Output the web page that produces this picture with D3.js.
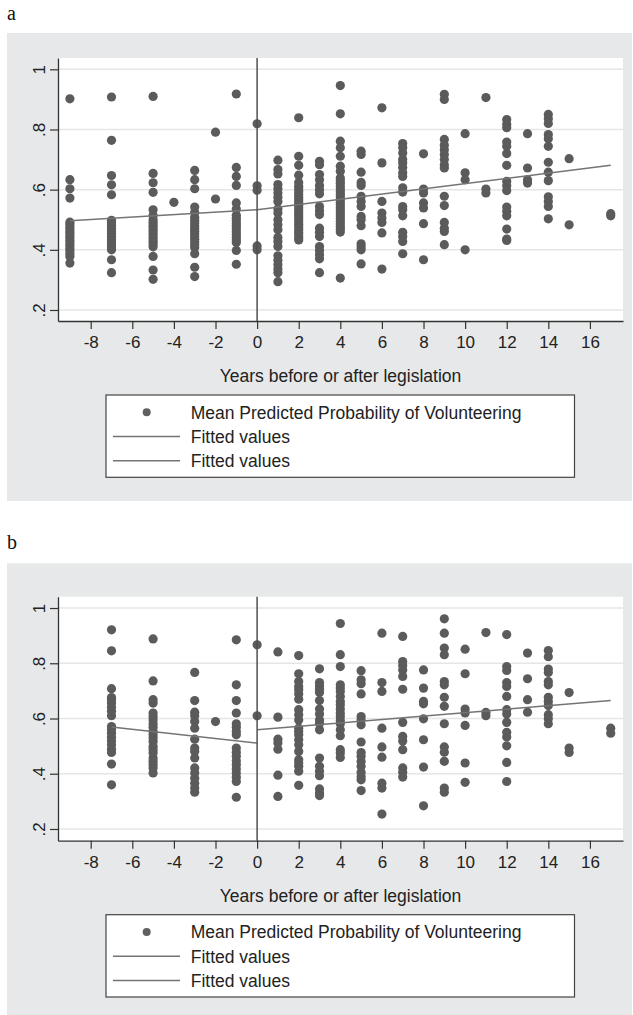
<!DOCTYPE html>
<html>
<head>
<meta charset="utf-8">
<script src="https://cdn.jsdelivr.net/npm/d3@7"></script>
<style>
  body { margin: 0; background: #fff; }
  svg { display: block; }
</style>
</head>
<body>
<div id="chart"></div>
<script>
// years on the x axis that carry points, one list of mean probabilities per year
const aYears = [-9, -7, -5, -4, -3, -2, -1, 0, 1, 2, 3, 4, 5, 6, 7, 8, 9, 10, 11, 12, 13, 14, 15, 17];
const aProb = [
  [0.902, 0.633, 0.603, 0.572, 0.492, 0.484, 0.475, 0.466, 0.458, 0.449, 0.441, 0.432, 0.423, 0.414, 0.405, 0.396, 0.387, 0.378, 0.356],
  [0.908, 0.764, 0.647, 0.616, 0.583, 0.498, 0.490, 0.481, 0.472, 0.463, 0.454, 0.445, 0.436, 0.427, 0.418, 0.409, 0.400, 0.367, 0.324],
  [0.910, 0.654, 0.623, 0.591, 0.533, 0.514, 0.500, 0.491, 0.482, 0.473, 0.464, 0.455, 0.446, 0.437, 0.428, 0.419, 0.410, 0.378, 0.333, 0.302],
  [0.558],
  [0.664, 0.633, 0.603, 0.542, 0.524, 0.508, 0.498, 0.489, 0.480, 0.471, 0.462, 0.453, 0.444, 0.435, 0.426, 0.417, 0.408, 0.387, 0.342, 0.311],
  [0.791, 0.569],
  [0.918, 0.674, 0.644, 0.614, 0.556, 0.536, 0.515, 0.505, 0.496, 0.487, 0.478, 0.469, 0.460, 0.451, 0.442, 0.433, 0.424, 0.398, 0.352],
  [0.819, 0.613, 0.598, 0.413, 0.400],
  [0.698, 0.667, 0.652, 0.617, 0.603, 0.589, 0.575, 0.561, 0.536, 0.522, 0.500, 0.483, 0.467, 0.441, 0.428, 0.411, 0.380, 0.365, 0.350, 0.336, 0.324, 0.294],
  [0.839, 0.711, 0.681, 0.648, 0.624, 0.611, 0.602, 0.593, 0.584, 0.575, 0.566, 0.557, 0.548, 0.539, 0.530, 0.521, 0.512, 0.503, 0.494, 0.485, 0.476, 0.467, 0.458, 0.449, 0.440, 0.433],
  [0.694, 0.683, 0.650, 0.633, 0.614, 0.600, 0.586, 0.544, 0.530, 0.517, 0.472, 0.458, 0.444, 0.411, 0.398, 0.384, 0.370, 0.324],
  [0.946, 0.852, 0.761, 0.739, 0.711, 0.678, 0.661, 0.639, 0.630, 0.621, 0.612, 0.603, 0.594, 0.585, 0.576, 0.567, 0.558, 0.549, 0.540, 0.531, 0.522, 0.513, 0.504, 0.495, 0.486, 0.477, 0.468, 0.459, 0.306],
  [0.728, 0.717, 0.658, 0.624, 0.614, 0.578, 0.561, 0.544, 0.511, 0.500, 0.480, 0.420, 0.410, 0.400, 0.353],
  [0.872, 0.689, 0.561, 0.522, 0.506, 0.491, 0.456, 0.336],
  [0.753, 0.739, 0.722, 0.700, 0.689, 0.674, 0.656, 0.644, 0.606, 0.592, 0.544, 0.533, 0.513, 0.458, 0.444, 0.428, 0.387],
  [0.719, 0.602, 0.589, 0.556, 0.539, 0.487, 0.367],
  [0.917, 0.900, 0.767, 0.748, 0.733, 0.717, 0.700, 0.683, 0.672, 0.578, 0.547, 0.491, 0.472, 0.461, 0.417],
  [0.786, 0.656, 0.633, 0.400],
  [0.906, 0.602, 0.589],
  [0.833, 0.817, 0.806, 0.758, 0.744, 0.720, 0.681, 0.628, 0.613, 0.597, 0.542, 0.528, 0.513, 0.469, 0.436, 0.431],
  [0.786, 0.672, 0.633, 0.622],
  [0.850, 0.836, 0.820, 0.783, 0.769, 0.744, 0.691, 0.658, 0.630, 0.576, 0.561, 0.544, 0.503],
  [0.703, 0.483],
  [0.520, 0.513]
];
const aFitPreX = [-9, 0], aFitPreY = [0.497, 0.533];
const aFitPostX = [0, 17], aFitPostY = [0.533, 0.681];

const bYears = [-7, -5, -3, -2, -1, 0, 1, 2, 3, 4, 5, 6, 7, 8, 9, 10, 11, 12, 13, 14, 15, 17];
const bProb = [
  [0.921, 0.845, 0.708, 0.676, 0.668, 0.656, 0.641, 0.626, 0.610, 0.571, 0.559, 0.547, 0.532, 0.519, 0.505, 0.489, 0.477, 0.435, 0.360],
  [0.888, 0.736, 0.668, 0.656, 0.620, 0.607, 0.595, 0.580, 0.568, 0.553, 0.541, 0.529, 0.517, 0.499, 0.487, 0.475, 0.457, 0.445, 0.433, 0.421, 0.403],
  [0.767, 0.665, 0.623, 0.610, 0.589, 0.565, 0.525, 0.493, 0.481, 0.457, 0.421, 0.403, 0.384, 0.366, 0.348, 0.333],
  [0.589],
  [0.885, 0.722, 0.665, 0.620, 0.581, 0.568, 0.553, 0.541, 0.493, 0.478, 0.463, 0.447, 0.433, 0.417, 0.403, 0.387, 0.372, 0.315],
  [0.867, 0.610],
  [0.841, 0.605, 0.525, 0.511, 0.489, 0.395, 0.318],
  [0.828, 0.762, 0.734, 0.716, 0.704, 0.689, 0.670, 0.632, 0.614, 0.595, 0.565, 0.553, 0.541, 0.523, 0.505, 0.481, 0.451, 0.439, 0.427, 0.409, 0.358],
  [0.780, 0.730, 0.718, 0.706, 0.694, 0.665, 0.634, 0.616, 0.595, 0.583, 0.559, 0.457, 0.427, 0.409, 0.393, 0.345, 0.330, 0.321],
  [0.944, 0.831, 0.788, 0.722, 0.710, 0.698, 0.680, 0.662, 0.650, 0.634, 0.620, 0.607, 0.593, 0.581, 0.559, 0.538, 0.487, 0.475, 0.459],
  [0.773, 0.740, 0.726, 0.689, 0.607, 0.595, 0.577, 0.515, 0.477, 0.463, 0.445, 0.427, 0.405, 0.390, 0.378, 0.339],
  [0.909, 0.730, 0.698, 0.565, 0.497, 0.460, 0.366, 0.348, 0.254],
  [0.897, 0.806, 0.792, 0.776, 0.752, 0.706, 0.586, 0.535, 0.519, 0.487, 0.421, 0.405, 0.388],
  [0.776, 0.710, 0.662, 0.653, 0.599, 0.523, 0.424, 0.284],
  [0.961, 0.909, 0.855, 0.831, 0.734, 0.722, 0.677, 0.644, 0.581, 0.497, 0.478, 0.445, 0.348, 0.333],
  [0.851, 0.762, 0.634, 0.620, 0.575, 0.439, 0.369],
  [0.911, 0.622, 0.610],
  [0.904, 0.788, 0.774, 0.730, 0.716, 0.680, 0.632, 0.616, 0.586, 0.550, 0.533, 0.501, 0.441, 0.372],
  [0.837, 0.744, 0.668, 0.623],
  [0.846, 0.824, 0.779, 0.767, 0.734, 0.722, 0.677, 0.662, 0.647, 0.614, 0.599, 0.581],
  [0.694, 0.493, 0.477],
  [0.565, 0.547]
];
const bFitPreX = [-7, 0], bFitPreY = [0.569, 0.511];
const bFitPostX = [0, 17], bFitPostY = [0.559, 0.665];

const xTicks = [-8, -6, -4, -2, 0, 2, 4, 6, 8, 10, 12, 14, 16];
const yTicks = [0.2, 0.4, 0.6, 0.8, 1];
const yTickLabels = [".2", ".4", ".6", ".8", "1"];
const xTitle = "Years before or after legislation";
const legendLabels = ["Mean Predicted Probability of Volunteering", "Fitted values", "Fitted values"];

const W = 633, H = 1015;
const sans = "'Liberation Sans', Arial, sans-serif";
const dotCol = "#5b5b5b", fitCol = "#747474", textCol = "#222";

const svg = d3.select("#chart").append("svg")
    .attr("width", W).attr("height", H)
    .style("font-family", sans);

function drawPanel(p) {
  const g = svg.append("g");

  g.append("text")
    .attr("x", 7).attr("y", p.labelY)
    .style("font-family", "'Liberation Serif', 'Times New Roman', serif")
    .style("font-size", "20px")
    .attr("fill", "#111")
    .text(p.label);

  g.append("rect")
    .attr("x", 7).attr("y", p.bgTop)
    .attr("width", 625).attr("height", p.bgBottom - p.bgTop)
    .attr("fill", "#e7e8e9");

  const x = d3.scaleLinear().domain([-9.572, 17.59]).range([58, 623]);
  const y = d3.scaleLinear().domain(p.yDomain).range([p.bottom, p.top]);

  g.append("rect")
    .attr("x", 58).attr("y", p.top)
    .attr("width", 623 - 58).attr("height", p.bottom - p.top)
    .attr("fill", "#fff");

  // grid
  g.append("g").selectAll("line").data(yTicks).join("line")
    .attr("x1", 58).attr("x2", 623)
    .attr("y1", d => y(d)).attr("y2", d => y(d))
    .attr("stroke", "#e6e6e6").attr("stroke-width", 1.5);

  // points
  const pts = p.years.flatMap((yr, i) => p.probs[i].map(v => ({ yr, v })));
  g.append("g").selectAll("circle").data(pts).join("circle")
    .attr("cx", d => x(d.yr)).attr("cy", d => y(d.v))
    .attr("r", 4.6).attr("fill", dotCol);

  // fitted lines
  const line = d3.line().x(d => x(d[0])).y(d => y(d[1]));
  p.fits.forEach(f => {
    g.append("path")
      .datum(d3.zip(f[0], f[1]))
      .attr("d", line)
      .attr("fill", "none").attr("stroke", fitCol).attr("stroke-width", 1.5);
  });

  // vertical line at 0
  g.append("line")
    .attr("x1", x(0)).attr("x2", x(0))
    .attr("y1", p.top).attr("y2", p.bottom)
    .attr("stroke", "#505050").attr("stroke-width", 1.5);

  // axes
  const xAxis = g.append("g")
    .attr("transform", `translate(0,${p.bottom})`)
    .call(d3.axisBottom(x).tickValues(xTicks).tickSize(8).tickSizeOuter(0).tickFormat(d => String(d)));
  xAxis.select(".domain").attr("stroke", "#333").attr("stroke-width", 1.3);
  xAxis.selectAll(".tick line").attr("stroke", "#333").attr("stroke-width", 1.2);
  xAxis.selectAll("text")
    .attr("y", 27.3).attr("dy", null)
    .attr("fill", textCol)
    .style("font-size", "17px").style("font-family", sans);

  const yAxis = g.append("g")
    .attr("transform", "translate(58,0)")
    .call(d3.axisLeft(y).tickValues(yTicks).tickSize(8).tickSizeOuter(0)
      .tickFormat((d, i) => yTickLabels[i]));
  yAxis.select(".domain").attr("stroke", "#333").attr("stroke-width", 1.3);
  yAxis.selectAll(".tick line").attr("stroke", "#333").attr("stroke-width", 1.2);
  yAxis.selectAll("text")
    .attr("x", null).attr("dy", null)
    .attr("text-anchor", "middle")
    .attr("transform", "translate(-13,0) rotate(-90)")
    .attr("fill", textCol)
    .style("font-size", "17px").style("font-family", sans);

  g.append("text")
    .attr("x", (58 + 623) / 2).attr("y", p.bottom + 61)
    .attr("text-anchor", "middle")
    .attr("fill", textCol)
    .style("font-size", "17.5px")
    .text(xTitle);

  // legend
  const lt = p.bottom + 74;
  const lg = g.append("g").attr("transform", `translate(106,${lt})`);
  lg.append("rect")
    .attr("x", 0).attr("y", 0).attr("width", 468.5).attr("height", 82.3)
    .attr("fill", "#fff").attr("stroke", "#444").attr("stroke-width", 1.2);
  const rows = [17.3, 41.6, 65.7];
  legendLabels.forEach((t, i) => {
    if (i === 0) {
      lg.append("circle").attr("cx", 40.7).attr("cy", rows[i]).attr("r", 4).attr("fill", "#606060");
    } else {
      lg.append("line")
        .attr("x1", 7).attr("x2", 74).attr("y1", rows[i]).attr("y2", rows[i])
        .attr("stroke", fitCol).attr("stroke-width", 1.5);
    }
    lg.append("text")
      .attr("x", 84.7).attr("y", rows[i] + 6.3)
      .attr("fill", textCol)
      .style("font-size", "17.5px")
      .text(t);
  });
}

drawPanel({
  label: "a", labelY: 19.5, bgTop: 33, bgBottom: 501,
  top: 58, bottom: 321, yDomain: [0.1634, 1.0376],
  years: aYears, probs: aProb,
  fits: [[aFitPreX, aFitPreY], [aFitPostX, aFitPostY]]
});

drawPanel({
  label: "b", labelY: 549.3, bgTop: 563.3, bgBottom: 1015,
  top: 596.7, bottom: 840.7, yDomain: [0.1576, 1.041],
  years: bYears, probs: bProb,
  fits: [[bFitPreX, bFitPreY], [bFitPostX, bFitPostY]]
});
</script>
</body>
</html>
